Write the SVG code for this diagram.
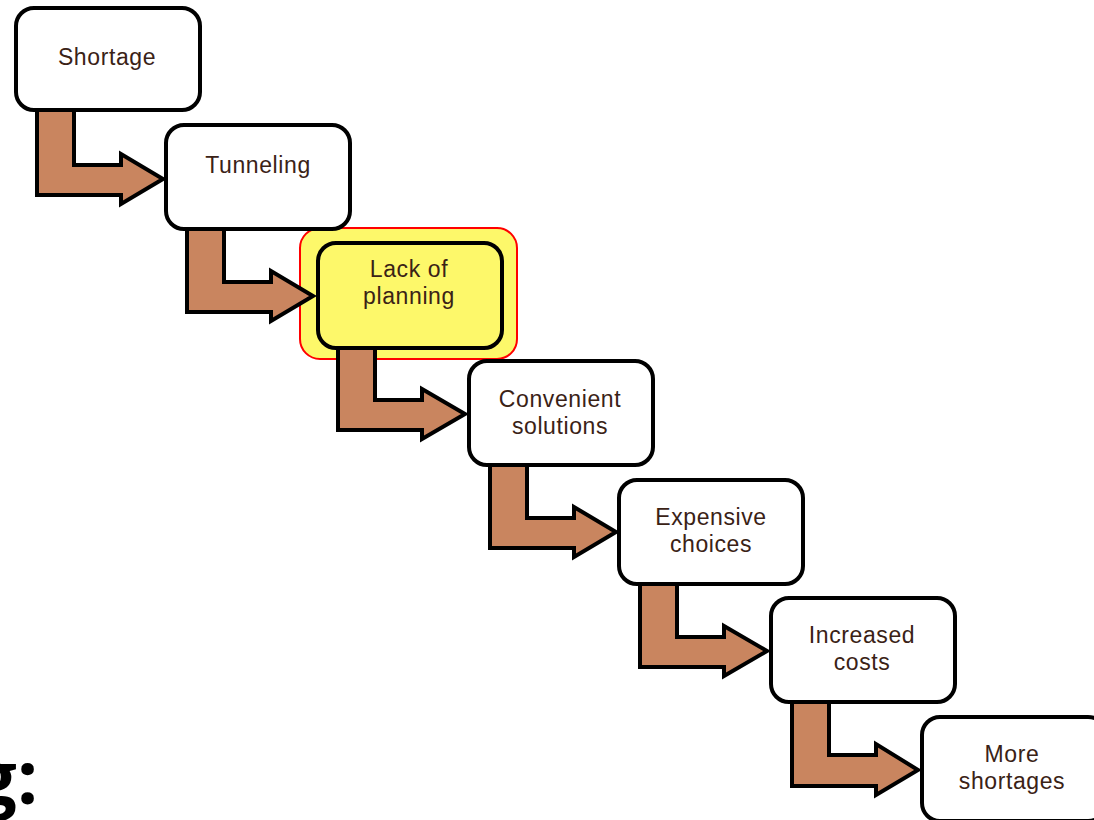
<svg xmlns="http://www.w3.org/2000/svg" width="1094" height="820" viewBox="0 0 1094 820">
<style>
.box{fill:#ffffff;stroke:#000000;stroke-width:4}
.arr{fill:#c9855f;stroke:#000000;stroke-width:4;stroke-linejoin:miter}
.lbl{font-family:"Liberation Sans",Arial,sans-serif;font-size:23px;letter-spacing:0.6px;fill:#3a2216;text-anchor:middle}
</style>
<rect width="1094" height="820" fill="#ffffff"/>
<g id="highlight">
<rect x="300" y="228" width="217" height="131" rx="20" fill="#fdf86a" stroke="#ff0000" stroke-width="2"/>
</g>
<g id="connectors">
<path class="arr" d="M37,110 L74,110 L74,165 L121,165 L121,154 L163,179 L121,204 L121,195 L37,195 Z"/>
<path class="arr" d="M187,229 L224,229 L224,282 L271,282 L271,271 L313,296 L271,321 L271,312 L187,312 Z"/>
<path class="arr" d="M338,347 L375,347 L375,400 L422,400 L422,389 L465,414 L422,439 L422,430 L338,430 Z"/>
<path class="arr" d="M490,465 L527,465 L527,518 L574,518 L574,507 L616,532 L574,557 L574,548 L490,548 Z"/>
<path class="arr" d="M640,584 L677,584 L677,637 L724,637 L724,626 L767,651 L724,676 L724,667 L640,667 Z"/>
<path class="arr" d="M792,702 L829,702 L829,755 L876,755 L876,744 L918,770 L876,795 L876,786 L792,786 Z"/>
</g>
<g id="n1">
<rect class="box" x="16" y="8" width="184" height="102" rx="18"/>
<text class="lbl" x="107" y="65">Shortage</text>
</g>
<g id="n2">
<rect class="box" x="166" y="125" width="184" height="104" rx="18"/>
<text class="lbl" x="258" y="173">Tunneling</text>
</g>
<g id="n3">
<rect class="box" x="318" y="243" width="184" height="105" rx="18" style="fill:#fdf86a"/>
<text class="lbl"><tspan x="409" y="277">Lack of</tspan><tspan x="409" y="304">planning</tspan></text>
</g>
<g id="n4">
<rect class="box" x="469" y="361" width="184" height="104" rx="18"/>
<text class="lbl"><tspan x="560" y="407">Convenient</tspan><tspan x="560" y="433.5">solutions</tspan></text>
</g>
<g id="n5">
<rect class="box" x="619" y="480" width="184" height="104" rx="18"/>
<text class="lbl"><tspan x="711" y="525">Expensive</tspan><tspan x="711" y="551.5">choices</tspan></text>
</g>
<g id="n6">
<rect class="box" x="771" y="598" width="184" height="104" rx="18"/>
<text class="lbl"><tspan x="862" y="643">Increased</tspan><tspan x="862" y="669.5">costs</tspan></text>
</g>
<g id="n7">
<rect class="box" x="922" y="717" width="184" height="104" rx="18"/>
<text class="lbl"><tspan x="1012" y="762">More</tspan><tspan x="1012" y="788.5">shortages</tspan></text>
</g>
<text x="38" y="804" font-family="'Open Sans','Liberation Sans',sans-serif" font-size="74" font-weight="bold" fill="#000000" text-anchor="end">g:</text>
</svg>
